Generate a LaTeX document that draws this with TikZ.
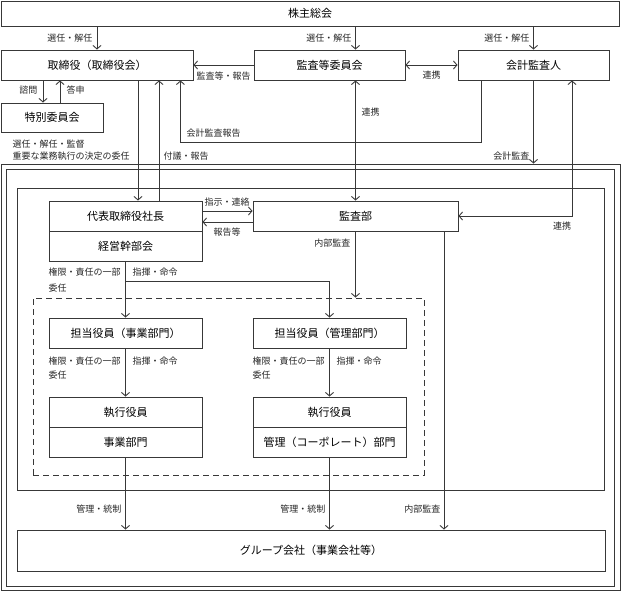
\documentclass[tikz,border=0pt]{standalone}
\usepackage{fontspec}
\setmainfont{Noto Sans CJK JP}
\usetikzlibrary{arrows.meta,calc}
\begin{document}
\begin{tikzpicture}[x=1pt,y=-1pt,
  line/.style={draw=black!78,line width=0.9pt},
  box/.style={line,rectangle,inner sep=0pt,font=\fontsize{11}{13}\selectfont},
  frm/.style={line,rectangle,inner sep=0pt},
  lab/.style={inner sep=0.5pt,font=\fontsize{9}{10}\selectfont,text=black!85},
  tip/.tip={Straight Barb[length=3.5pt,width=8pt]},
  arr/.style={line,-tip},
  darr/.style={line,tip-tip},
]
\useasboundingbox (0,0) rectangle (621,591);
% frames
\node[frm,minimum width=619pt,minimum height=426pt] (f1) at (310.5,377) {};
\node[frm,minimum width=608pt,minimum height=417pt] (f2) at (310,377.5) {};
\node[frm,minimum width=587pt,minimum height=302pt] (f3) at (310.5,339) {};
\node[frm,dashed,dash pattern=on 6pt off 4pt,minimum width=391pt,minimum height=177pt] (dash) at (228.5,386.5) {};
% boxes
\node[box,minimum width=618pt,minimum height=25pt] (kabu) at (310,13.5) {株主総会};
\node[box,minimum width=192pt,minimum height=30pt] (tori) at (97,65) {取締役（取締役会）};
\node[box,minimum width=151pt,minimum height=30pt] (kansatou) at (329.5,65) {監査等委員会};
\node[box,minimum width=151pt,minimum height=30pt] (kaikei) at (533.5,65) {会計監査人};
\node[box,minimum width=102pt,minimum height=29pt] (toku) at (52,117.5) {特別委員会};
\node[box,minimum width=153pt,minimum height=30pt] (daihyo) at (125.5,216) {代表取締役社長};
\node[box,minimum width=153pt,minimum height=30pt] (keiei) at (125.5,246) {経営幹部会};
\node[box,minimum width=205pt,minimum height=30pt] (kansabu) at (355.5,216) {監査部};
\node[box,minimum width=153pt,minimum height=30pt] (tanA) at (125.5,333) {担当役員（事業部門）};
\node[box,minimum width=153pt,minimum height=30pt] (tanB) at (329.5,333) {担当役員（管理部門）};
\node[box,minimum width=153pt,minimum height=30pt] (shikA) at (125.5,412) {執行役員};
\node[box,minimum width=153pt,minimum height=30pt] (jigA) at (125.5,442) {事業部門};
\node[box,minimum width=153pt,minimum height=30pt] (shikB) at (329.5,412) {執行役員};
\node[box,minimum width=153pt,minimum height=30pt] (kanB) at (329.5,442) {管理（コーポレート）部門};
\node[box,minimum width=588pt,minimum height=41pt] (group) at (311,550.5) {グループ会社（事業会社等）};
% helper coordinates
\coordinate (sh) at ([xshift=-9pt]toku.north);
\coordinate (to) at ([xshift=8pt]toku.north);
\coordinate (kr) at ([xshift=-52.5pt]kaikei.south);
\coordinate (kt) at ([xshift=-13pt]tori.south east);
\coordinate (kl) at ([xshift=38.5pt]kaikei.south);
\coordinate (d1) at ([xshift=12.5pt]daihyo.north);
\coordinate (d2) at ([xshift=33.5pt]daihyo.north);
\coordinate (s1) at ([yshift=5pt]daihyo.east);
\coordinate (s2) at ([yshift=-6pt]daihyo.east);
\coordinate (ka) at ([xshift=88.5pt]kansabu.south);
% connectors
\draw[arr] (tori.north |- kabu.south) -- (tori.north);
\draw[arr] (kansabu.north |- kabu.south) -- (kansabu.north |- kansatou.north);
\draw[arr] (kaikei.north |- kabu.south) -- (kaikei.north);
\draw[arr] (kansatou.west) -- (tori.east);
\draw[darr] (kansatou.east) -- (kaikei.west);
\draw[arr] (sh |- tori.south) -- (sh);
\draw[arr] (to) -- (to |- tori.south);
\draw[arr] (kr) -- ++(0,62) -| (kt);
\draw[darr] (kansabu.north |- kansatou.south) -- (kansabu.north);
\draw[arr] (kaikei.south) -- (kaikei.south |- f1.north);
\draw[darr] (kl) |- (kansabu.east);
\draw[arr] (d1 |- tori.south) -- (d1);
\draw[arr] (d2) -- (d2 |- tori.south);
\draw[arr] (s1) -- (s1 -| kansabu.west);
\draw[arr] (s2 -| kansabu.west) -- (s2);
\draw[arr] (keiei.south) -- (tanA.north);
\draw[arr] (keiei.south) -- ++(0,20) -| (tanB.north);
\draw[arr] (kansabu.south) -- (kansabu.south |- dash.north);
\draw[arr] (tanA.south) -- (shikA.north);
\draw[arr] (tanB.south) -- (shikB.north);
\draw[arr] (jigA.south) -- (jigA.south |- group.north);
\draw[arr] (kanB.south) -- (kanB.south |- group.north);
\draw[arr] (ka) -- (ka |- group.north);
% labels
\node[lab,anchor=east] (l1) at (93,38) {選任・解任};
\node[lab,anchor=east] (l2) at (352,38) {選任・解任};
\node[lab,anchor=east] (l3) at (530,38) {選任・解任};
\node[lab] (l4) at (223.5,76) {監査等・報告};
\node[lab] (l5) at (431.5,75) {連携};
\node[lab,anchor=east] (l6) at (38,90) {諮問};
\node[lab,anchor=west] (l7) at (66,90) {答申};
\node[lab,anchor=west] (l8) at (186,133) {会計監査報告};
\node[lab,anchor=west] (l9) at (12,144) {選任・解任・監督};
\node[lab,anchor=west] (l10) at (12,156) {重要な業務執行の決定の委任};
\node[lab,anchor=west] (l11) at (163,156) {付議・報告};
\node[lab,anchor=west] (l12) at (361,112) {連携};
\node[lab,anchor=east] (l13) at (530,156) {会計監査};
\node[lab] (l14) at (227,202) {指示・連絡};
\node[lab] (l15) at (227,232) {報告等};
\node[lab] (l16) at (562,226) {連携};
\node[lab,anchor=east] (l17) at (351,243) {内部監査};
\node[lab,anchor=west] (l18) at (48,272) {権限・責任の一部};
\node[lab,anchor=west] (l19) at (48,288) {委任};
\node[lab,anchor=west] (l20) at (132,272) {指揮・命令};
\node[lab,anchor=west] (l21) at (48,361) {権限・責任の一部};
\node[lab,anchor=west] (l22) at (48,375) {委任};
\node[lab,anchor=west] (l23) at (132,361) {指揮・命令};
\node[lab,anchor=west] (l24) at (252,361) {権限・責任の一部};
\node[lab,anchor=west] (l25) at (252,375) {委任};
\node[lab,anchor=west] (l26) at (336,361) {指揮・命令};
\node[lab,anchor=east] (l27) at (122,509) {管理・統制};
\node[lab,anchor=east] (l28) at (326,509) {管理・統制};
\node[lab,anchor=east] (l29) at (441,509) {内部監査};
\end{tikzpicture}
\end{document}
